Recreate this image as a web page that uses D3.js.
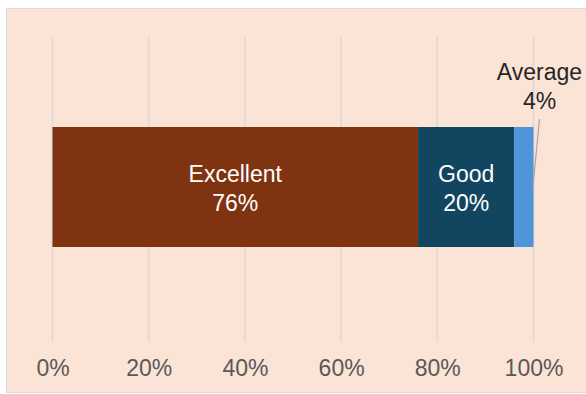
<!DOCTYPE html>
<html>
<head>
<meta charset="utf-8">
<script src="https://cdn.jsdelivr.net/npm/d3@7"></script>
<style>
  body { margin: 0; background: #fff; }
  svg text { font-family: "Liberation Sans", Arial, sans-serif; }
</style>
</head>
<body>
<svg id="chart" width="586" height="394"></svg>
<script>
// data
const categories = ['Excellent', 'Good', 'Average'];
const values = [76, 20, 4];
const colors = ['#7F3311', '#124560', '#4E95D9'];
const ticks = [0, 20, 40, 60, 80, 100];

const svg = d3.select('#chart');

svg.append('rect')
    .attr('x', 6.5).attr('y', 8.5)
    .attr('width', 590).attr('height', 384)
    .attr('fill', '#FBE3D6')
    .attr('stroke', '#D9D9D9');

const xscale = d3.scaleLinear().domain([0, 100]).range([52.5, 533.5]);
const yscale = d3.scaleBand().domain(['row']).range([127, 247]).padding(0);

// gridlines
svg.append('g').selectAll('line')
    .data(ticks)
    .join('line')
    .attr('x1', d => xscale(d)).attr('x2', d => xscale(d))
    .attr('y1', 37).attr('y2', 342)
    .attr('stroke', '#D9D9D9')
    .attr('stroke-width', 1.5);

// axis labels
const xaxis = d3.axisBottom(xscale).tickValues(ticks).tickFormat(d => d + '%').tickSize(0).tickPadding(0);
const xg = svg.append('g').call(xaxis);
xg.select('.domain').remove();
xg.selectAll('text')
    .attr('y', 376).attr('dy', null)
    .attr('font-size', 23).attr('fill', '#595959')
    .style('font-family', '"Liberation Sans", Arial, sans-serif');

// stacked segments
let acc = 0;
const segs = categories.map((c, i) => {
    const s = { label: c, value: values[i], start: acc, color: colors[i] };
    acc += values[i];
    return s;
});

const y0 = yscale('row');
const bh = yscale.bandwidth();

svg.append('g').selectAll('rect')
    .data(segs)
    .join('rect')
    .attr('x', d => xscale(d.start))
    .attr('y', y0)
    .attr('width', d => xscale(d.start + d.value) - xscale(d.start))
    .attr('height', bh)
    .attr('fill', d => d.color);

// inside labels
const inside = segs.filter(d => d.value >= 10);
const lbl = svg.append('g').selectAll('text')
    .data(inside)
    .join('text')
    .attr('text-anchor', 'middle')
    .attr('fill', '#fff')
    .attr('font-size', 23);
lbl.append('tspan').attr('x', d => xscale(d.start + d.value / 2)).attr('y', y0 + bh / 2 - 5).text(d => d.label);
lbl.append('tspan').attr('x', d => xscale(d.start + d.value / 2)).attr('y', y0 + bh / 2 + 24).text(d => d.value + '%');

// outside label with leader line
const small = segs.filter(d => d.value < 10);
small.forEach(d => {
    const cx = xscale(d.start + d.value) + 6;
    svg.append('line')
        .attr('x1', cx).attr('y1', 119)
        .attr('x2', xscale(d.start + d.value) - 0.5).attr('y2', y0 + bh / 2 - 1)
        .attr('stroke', '#A6A6A6').attr('stroke-width', 1.2);
    const t = svg.append('text').attr('text-anchor', 'middle').attr('fill', '#262626').attr('font-size', 23);
    t.append('tspan').attr('x', cx).attr('y', 80).text(d.label);
    t.append('tspan').attr('x', cx).attr('y', 109).text(d.value + '%');
});
</script>
</body>
</html>
